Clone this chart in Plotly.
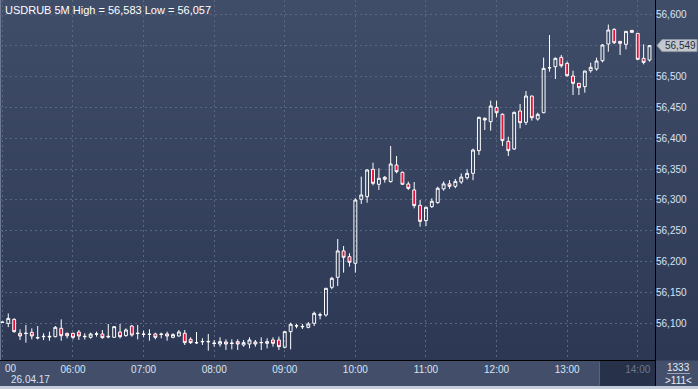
import plotly.graph_objects as go
import pandas as pd

# ---------------- data (USDRUB, 5-minute candles, 26.04.17) ----------------
opens = [56.1025, 56.1010, 56.1075, 56.0850, 56.0845, 56.0865, 56.0775, 56.0795, 56.0790, 56.0795,
         56.0930, 56.0849, 56.0849, 56.0870, 56.0795, 56.0785, 56.0835, 56.0838, 56.0790, 56.0785,
         56.0870, 56.0812, 56.0967, 56.0845, 56.0830, 56.0830, 56.0839, 56.0830, 56.0839, 56.0785,
         56.0806, 56.0850, 56.0753, 56.0695, 56.0712, 56.0712, 56.0685, 56.0677, 56.0710, 56.0685,
         56.0715, 56.0661, 56.0677, 56.0710, 56.0697, 56.0688, 56.0742, 56.0742, 56.0624, 56.0876,
         56.0968, 56.0955, 56.0946, 56.1011, 56.1143, 56.1145, 56.1592, 56.1753, 56.2178, 56.2086,
         56.1979, 56.3011, 56.3054, 56.3495, 56.3253, 56.3366, 56.3296, 56.3565, 56.3447, 56.3258,
         56.3162, 56.2914, 56.2667, 56.2893, 56.2957, 56.3180, 56.3260, 56.3220, 56.3290, 56.3360,
         56.3430, 56.3796, 56.4317, 56.4263, 56.4494, 56.4382, 56.3946, 56.3823, 56.4435, 56.4253,
         56.4677, 56.4306, 56.4408, 56.5130, 56.5150, 56.5301, 56.5204, 56.5000, 56.4882, 56.4828,
         56.5086, 56.5113, 56.5247, 56.5516, 56.5752, 56.5559, 56.5511, 56.5736, 56.5688, 56.5285,
         56.5258]
highs = [56.1035, 56.1170, 56.1090, 56.0914, 56.0984, 56.0930, 56.0967, 56.0850, 56.0876, 56.0967,
         56.1075, 56.0860, 56.0860, 56.0903, 56.0850, 56.0860, 56.0876, 56.0903, 56.1000, 56.0967,
         56.1000, 56.0930, 56.0984, 56.0984, 56.0892, 56.0914, 56.0860, 56.0860, 56.0876, 56.0850,
         56.0903, 56.0903, 56.0785, 56.0871, 56.0769, 56.0839, 56.0742, 56.0785, 56.0753, 56.0753,
         56.0753, 56.0742, 56.0785, 56.0742, 56.0785, 56.0769, 56.0785, 56.0796, 56.0876, 56.1021,
         56.1000, 56.1000, 56.1032, 56.1199, 56.1183, 56.1580, 56.1760, 56.2371, 56.2258, 56.2140,
         56.3027, 56.3377, 56.3495, 56.3602, 56.3511, 56.3387, 56.3871, 56.3710, 56.3457, 56.3296,
         56.3290, 56.3000, 56.2893, 56.3027, 56.3215, 56.3300, 56.3320, 56.3340, 56.3428, 56.3495,
         56.3828, 56.4344, 56.4333, 56.4602, 56.4602, 56.4398, 56.4021, 56.4425, 56.4548, 56.4758,
         56.4680, 56.4408, 56.5296, 56.5661, 56.5300, 56.5339, 56.5231, 56.5086, 56.4885, 56.5085,
         56.5215, 56.5296, 56.5516, 56.5830, 56.5769, 56.5560, 56.5722, 56.5740, 56.5690, 56.5511,
         56.5500]
lows = [56.1020, 56.0950, 56.0860, 56.0742, 56.0699, 56.0752, 56.0752, 56.0740, 56.0730, 56.0785,
        56.0730, 56.0768, 56.0752, 56.0742, 56.0750, 56.0763, 56.0795, 56.0763, 56.0770, 56.0780,
        56.0768, 56.0795, 56.0795, 56.0752, 56.0785, 56.0731, 56.0753, 56.0769, 56.0731, 56.0769,
        56.0796, 56.0661, 56.0677, 56.0677, 56.0661, 56.0570, 56.0634, 56.0634, 56.0580, 56.0590,
        56.0581, 56.0634, 56.0607, 56.0634, 56.0580, 56.0607, 56.0634, 56.0581, 56.0607, 56.0590,
        56.0930, 56.0920, 56.0930, 56.0968, 56.1075, 56.1118, 56.1560, 56.1613, 56.1828, 56.1925,
        56.1828, 56.2936, 56.2957, 56.3237, 56.3162, 56.3280, 56.3280, 56.3430, 56.3242, 56.3162,
        56.2866, 56.2570, 56.2581, 56.2871, 56.2940, 56.3150, 56.3180, 56.3190, 56.3260, 56.3330,
        56.3320, 56.3726, 56.4129, 56.4118, 56.4333, 56.3871, 56.3710, 56.3806, 56.4156, 56.4210,
        56.4280, 56.4280, 56.4400, 56.5070, 56.4952, 56.5134, 56.4989, 56.4693, 56.4693, 56.4731,
        56.5054, 56.5086, 56.5220, 56.5392, 56.5516, 56.5339, 56.5430, 56.5700, 56.5258, 56.5188,
        56.5231]
closes = [56.1030, 56.1090, 56.0876, 56.0806, 56.0850, 56.0806, 56.0780, 56.0800, 56.0800, 56.0946,
          56.0811, 56.0810, 56.0785, 56.0806, 56.0800, 56.0838, 56.0840, 56.0779, 56.0800, 56.0957,
          56.0795, 56.0903, 56.0822, 56.0850, 56.0836, 56.0835, 56.0785, 56.0836, 56.0806, 56.0828,
          56.0871, 56.0699, 56.0699, 56.0700, 56.0718, 56.0718, 56.0691, 56.0715, 56.0677, 56.0691,
          56.0677, 56.0699, 56.0742, 56.0677, 56.0701, 56.0715, 56.0688, 56.0634, 56.0876, 56.0995,
          56.0972, 56.0960, 56.1000, 56.1172, 56.1147, 56.1576, 56.1737, 56.2178, 56.2076, 56.1995,
          56.3000, 56.3081, 56.3484, 56.3269, 56.3350, 56.3334, 56.3581, 56.3457, 56.3253, 56.3188,
          56.2909, 56.2656, 56.2882, 56.2979, 56.3189, 56.3260, 56.3220, 56.3300, 56.3370, 56.3430,
          56.3806, 56.4333, 56.4290, 56.4516, 56.4408, 56.3957, 56.3796, 56.4414, 56.4247, 56.4677,
          56.4328, 56.4382, 56.5123, 56.5134, 56.5285, 56.5166, 56.5005, 56.4882, 56.4812, 56.5080,
          56.5140, 56.5242, 56.5500, 56.5742, 56.5537, 56.5527, 56.5720, 56.5704, 56.5269, 56.5220,
          56.5490]
times = pd.date_range("2017-04-26 05:00", periods=len(opens), freq="5min")

hour_labels = ["05:00", "06:00", "07:00", "08:00", "09:00", "10:00", "11:00", "12:00", "13:00", "14:00"]
hour_vals = ["2017-04-26 " + h for h in hour_labels]
# the 05:00 label sits on the left edge and only its "00" shows
first_label_text = "00"
hour_text = [""] + hour_labels[1:-1] + ['<span style="color:#6b7791">14:00</span>']

price_ticks = [56.100, 56.150, 56.200, 56.250, 56.300, 56.350, 56.400, 56.450, 56.500, 56.550, 56.600]
price_text = ["56,100", "56,150", "56,200", "56,250", "56,300", "56,350", "56,400", "56,450",
              "56,500", "", "56,600"]

title_text = "USDRUB 5M High = 56,583 Low = 56,057"
last_price_text = "56,549"
last_price = 56.549
date_text = "26.04.17"
bars_text = "1333"
count_text = ">111<"

# ---------------- layout geometry ----------------
W, H = 698, 389
ML, MR, MT, MB = 0, 43, 0, 29
PW, PH = W - ML - MR, H - MT - MB


def px(x):
    return (x - ML) / PW


def py(y):
    return (MT + PH - y) / PH


FONT = "Liberation Sans, Arial, sans-serif"
LABEL = "#d8e3f4"

fig = go.Figure()
fig.add_trace(go.Candlestick(
    x=times, open=opens, high=highs, low=lows, close=closes,
    increasing=dict(line=dict(color="#ffffff", width=1), fillcolor="rgba(0,0,0,0)"),
    decreasing=dict(line=dict(color="#ffffff", width=1), fillcolor="#e3123a"),
    whiskerwidth=0, showlegend=False, hoverinfo="skip",
))

shapes = []
# background gradient
top = (0x40, 0x4d, 0x69)
bot = (0x2c, 0x38, 0x54)
n = 45
for k in range(n):
    f = k / (n - 1)
    c = tuple(round(top[j] + (bot[j] - top[j]) * f) for j in range(3))
    y0 = 360 * k / n
    y1 = 360 * (k + 1) / n + 0.5
    shapes.append(dict(type="rect", xref="paper", yref="paper", x0=px(0), x1=px(W),
                       y0=py(y1), y1=py(y0), fillcolor="rgb(%d,%d,%d)" % c,
                       line=dict(width=0), layer="below"))
# bottom axis band
shapes.append(dict(type="rect", xref="paper", yref="paper", x0=px(0), x1=px(600),
                   y0=py(386), y1=py(360.5), fillcolor="#434f6a", line=dict(width=0), layer="below"))
shapes.append(dict(type="rect", xref="paper", yref="paper", x0=px(600), x1=px(655),
                   y0=py(386), y1=py(360.5), fillcolor="#27324a", line=dict(width=0), layer="below"))
shapes.append(dict(type="line", xref="paper", yref="paper", x0=px(599.5), x1=px(599.5),
                   y0=py(385), y1=py(362), line=dict(color="#59647a", width=1), layer="below"))
shapes.append(dict(type="rect", xref="paper", yref="paper", x0=px(655), x1=px(W),
                   y0=py(386), y1=py(360.5), fillcolor="#44506b", line=dict(width=0), layer="below"))
shapes.append(dict(type="rect", xref="paper", yref="paper", x0=px(0), x1=px(W),
                   y0=py(H + 1), y1=py(386), fillcolor="#c4ccda", line=dict(width=0), layer="below"))
shapes.append(dict(type="line", xref="paper", yref="paper", x0=px(655.5), x1=px(655.5),
                   y0=py(386), y1=py(0), line=dict(color="#000000", width=1), layer="below"))
shapes.append(dict(type="line", xref="paper", yref="paper", x0=px(667), x1=px(690),
                   y0=py(373.5), y1=py(373.5), line=dict(color="#9aa4b8", width=1), layer="below"))
shapes.append(dict(type="line", xref="paper", yref="paper", x0=px(0.5), x1=px(0.5),
                   y0=py(360), y1=py(0), line=dict(color="#6f7b94", width=1), layer="below"))
# last price tag
ty = 14 + (56.600 - last_price) / 0.500 * 310
path = "M {} {} L {} {} L {} {} L {} {} L {} {} Z".format(
    px(657), py(ty), px(662), py(ty - 6), px(697), py(ty - 6), px(697), py(ty + 6), px(662), py(ty + 6))
shapes.append(dict(type="path", xref="paper", yref="paper", path=path,
                   fillcolor="#c3c7ce", line=dict(color="#9097a3", width=1), layer="above"))

annotations = [
    dict(text=title_text, xref="paper", yref="paper", x=px(3), y=py(2), xanchor="left", yanchor="top",
         showarrow=False, font=dict(family=FONT, size=11, color="#ffffff")),
    dict(text=last_price_text, xref="paper", yref="paper", x=px(680), y=py(ty), xanchor="center",
         yanchor="middle", showarrow=False, font=dict(family=FONT, size=10, color="#2a2e36")),
    dict(text=first_label_text, xref="paper", yref="paper", x=px(3), y=py(369), xanchor="left",
         yanchor="middle", showarrow=False, font=dict(family=FONT, size=10, color=LABEL)),
    dict(text=date_text, xref="paper", yref="paper", x=px(30), y=py(379.5), xanchor="center",
         yanchor="middle", showarrow=False, font=dict(family=FONT, size=10, color=LABEL)),
    dict(text=bars_text, xref="paper", yref="paper", x=px(678), y=py(367), xanchor="center",
         yanchor="middle", showarrow=False, font=dict(family=FONT, size=10, color="#e6ecf6")),
    dict(text=count_text, xref="paper", yref="paper", x=px(678), y=py(380), xanchor="center",
         yanchor="middle", showarrow=False, font=dict(family=FONT, size=10, color="#e6ecf6")),
]

grid = "#5b6782"
fig.update_layout(
    width=W, height=H, margin=dict(l=ML, r=MR, t=MT, b=MB, pad=0, autoexpand=False),
    paper_bgcolor="#2c3854", plot_bgcolor="rgba(0,0,0,0)",
    shapes=shapes, annotations=annotations, showlegend=False,
    font=dict(family=FONT, size=10, color=LABEL),
    xaxis=dict(type="date", range=["2017-04-26 04:57:58", "2017-04-26 14:14:40"],
               tickmode="array", tickvals=hour_vals, ticktext=hour_text,
               showgrid=True, gridcolor=grid, griddash="2px,3px", gridwidth=1,
               showline=True, linecolor="#000000", linewidth=1, ticks="",
               tickfont=dict(family=FONT, size=10, color=LABEL), ticklabeloverflow="allow",
               rangeslider=dict(visible=False), zeroline=False, fixedrange=True, automargin=False),
    yaxis=dict(side="right", range=[56.0419, 56.6226], tickmode="array",
               tickvals=price_ticks, ticktext=price_text,
               showgrid=True, gridcolor=grid, griddash="2px,3px", gridwidth=1,
               showline=False, ticks="", zeroline=False, automargin=False,
               tickfont=dict(family=FONT, size=10, color=LABEL), fixedrange=True),
)

fig.write_html(
    "out.html",
    config={"displayModeBar": False},
    post_script="document.body.style.margin='0';document.body.style.padding='0';"
                "document.body.style.overflow='hidden';",
)
